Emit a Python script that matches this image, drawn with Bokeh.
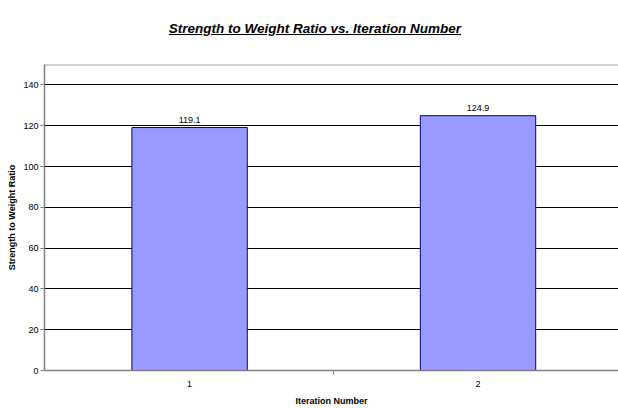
from bokeh.plotting import figure
from bokeh.models import ColumnDataSource, LabelSet, FixedTicker, Span, Range1d, Div
from bokeh.layouts import column
from bokeh.core.properties import value
from bokeh.embed import file_html
from bokeh.resources import INLINE

iterations = [1, 2]
ratios = [119.1, 124.9]
ratio_labels = ["119.1", "124.9"]
y_ticks = [0, 20, 40, 60, 80, 100, 120, 140]
title_text = "Strength to Weight Ratio vs. Iteration Number"

FONT = "Liberation Sans"

src = ColumnDataSource(dict(x=iterations, y=ratios, lab=ratio_labels))

title = Div(
    text=('<div style="width:618px;text-align:center;padding-top:21px;'
          "font-family:'Liberation Sans',Arial,sans-serif;font-size:13.5px;"
          'font-weight:bold;font-style:italic;text-decoration:underline;'
          'line-height:15px;color:#000;padding-left:12px;box-sizing:border-box">'
          + title_text + '</div>'),
    width=618, height=56, margin=0)

p = figure(width=618, height=352, output_backend="svg", toolbar_location=None,
           x_range=Range1d(0.497, 2.487), y_range=Range1d(0, 150),
           min_border_left=44, min_border_right=0, min_border_top=8, min_border_bottom=38,
           margin=0)
p.outline_line_color = None
p.background_fill_color = "white"
p.border_fill_color = "white"

p.vbar(x="x", top="y", width=0.40, source=src, fill_color="#9999FF",
       line_color="#000080", line_width=1)

p.add_layout(LabelSet(x="x", y="y", text="lab", source=src, text_align="center",
                      text_baseline="middle", y_offset=8, text_font=value(FONT),
                      text_font_size=value("9px"), text_color=value("#000000")))

# grid
p.xgrid.grid_line_color = None
p.ygrid.ticker = FixedTicker(ticks=y_ticks)
p.ygrid.grid_line_color = "#000000"
p.ygrid.grid_line_width = 1
p.add_layout(Span(location=150, dimension="width", line_color="#a0a0a0", line_width=2))

# y axis
ya = p.yaxis[0]
ya.ticker = FixedTicker(ticks=y_ticks, minor_ticks=[])
ya.axis_line_color = "#808080"
ya.axis_line_width = 1.5
ya.major_tick_line_color = "#808080"
ya.major_tick_out = 4
ya.major_tick_in = 0
ya.major_label_standoff = 2
ya.major_label_text_font = FONT
ya.major_label_text_font_size = "9px"
ya.major_label_text_color = "#000000"
ya.axis_label = "Strength to Weight Ratio"
ya.axis_label_text_font = FONT
ya.axis_label_text_font_size = "9px"
ya.axis_label_text_font_style = "bold"
ya.axis_label_text_color = "#000000"
ya.axis_label_standoff = 3

# x axis
xa = p.xaxis[0]
xa.ticker = FixedTicker(ticks=iterations, minor_ticks=[1.5])
xa.major_label_overrides = {1: "1", 2: "2"}
xa.axis_line_color = "#808080"
xa.axis_line_width = 1.5
xa.major_tick_line_color = None
xa.major_tick_out = 0
xa.major_tick_in = 0
xa.minor_tick_line_color = "#808080"
xa.minor_tick_out = 4
xa.minor_tick_in = 0
xa.major_label_standoff = 6
xa.major_label_text_font = FONT
xa.major_label_text_font_size = "9px"
xa.major_label_text_color = "#000000"
xa.axis_label = "Iteration Number"
xa.axis_label_text_font = FONT
xa.axis_label_text_font_size = "9px"
xa.axis_label_text_font_style = "bold"
xa.axis_label_text_color = "#000000"
xa.axis_label_standoff = 6

layout = column(title, p, spacing=0)
open("out.html", "w").write(file_html(layout, INLINE))
